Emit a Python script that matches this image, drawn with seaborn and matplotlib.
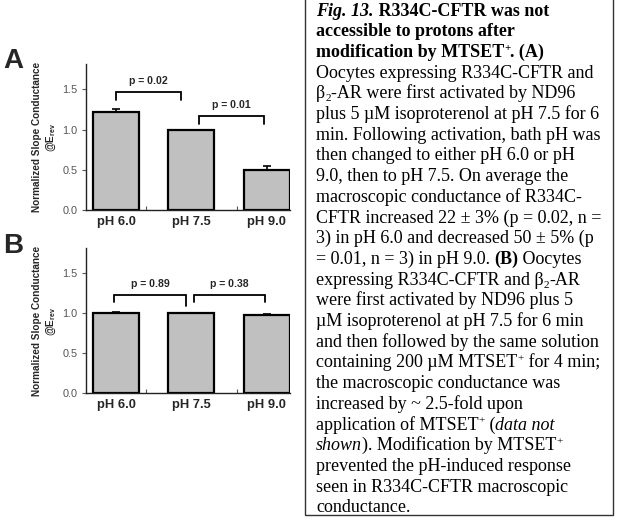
import numpy as np
import pandas as pd
import matplotlib
matplotlib.use("Agg")
import matplotlib.pyplot as plt
from matplotlib.patches import Rectangle
import seaborn as sns

# data
categories = ["pH 6.0", "pH 7.5", "pH 9.0"]
values_a = [1.22, 1.00, 0.50]
err_a = [0.03, 0.0, 0.05]
values_b = [1.00, 1.00, 0.98]
err_b = [0.015, 0.0, 0.015]
yticks = [0.0, 0.5, 1.0, 1.5]

# significance brackets: (label, x_left, x_right, y_top, y_leg_left, y_leg_right)
brackets_a = [("p = 0.02", 0.0, 0.86, 1.47, 1.37, 1.37),
              ("p = 0.01", 1.10, 1.96, 1.17, 1.07, 1.07)]
brackets_b = [("p = 0.89", -0.03, 0.93, 1.23, 1.14, 1.09),
              ("p = 0.38", 1.03, 1.98, 1.23, 1.14, 1.14)]

W, H = 622, 524
sns.set_style("ticks")
plt.rcParams["font.family"] = ["Liberation Sans", "DejaVu Sans"]

fig = plt.figure(figsize=(W / 100, H / 100), dpi=100)


def bar_panel(rect, vals, errs, brackets):
    ax = fig.add_axes(rect)
    df = pd.DataFrame({"ph": categories, "g": vals})
    sns.barplot(data=df, x="ph", y="g", color="#c0c0c0", width=0.61,
                edgecolor="black", linewidth=1.6, saturation=1, ax=ax)
    ax.errorbar(np.arange(len(vals)), vals, yerr=[np.zeros(len(vals)), errs],
                fmt="none", ecolor="black", elinewidth=1.2, capsize=3, capthick=1.2)
    for lab, x1, x2, yt, y1, y2 in brackets:
        ax.plot([x1, x1, x2, x2], [y1, yt, yt, y2], color="black", lw=1.3,
                solid_joinstyle="miter")
        ax.text((x1 + x2) / 2, yt + 0.07, lab, ha="center", va="bottom",
                fontsize=7.6, fontweight="bold")
    ax.set_xlim(-0.40, 2.31)
    ax.set_ylim(0, 1.815)
    ax.set_yticks(yticks)
    ax.set_yticklabels([f"{v:.1f}" for v in yticks])
    ax.set_xlabel("")
    ax.set_ylabel("")
    sns.despine(ax=ax)
    for s in ("left", "bottom"):
        ax.spines[s].set_linewidth(1.0)
        ax.spines[s].set_color("#222222")
    ax.tick_params(axis="y", length=3, width=0.8, pad=3, labelsize=7.8,
                   labelcolor="#555555", color="#555555")
    ax.tick_params(axis="x", length=0, pad=4, labelsize=9.3)
    for t in ax.get_xticklabels():
        t.set_fontweight("bold")
    ax.set_xticks([0.4, 1.6], minor=True)
    ax.tick_params(axis="x", which="minor", direction="in", length=3, width=0.8,
                   color="#555555")
    return ax


ax_a = bar_panel([86 / W, 1 - 210 / H, 204 / W, 146 / H], values_a, err_a, brackets_a)
ax_b = bar_panel([86 / W, 1 - 393 / H, 204 / W, 145 / H], values_b, err_b, brackets_b)

ylab = "Normalized Slope Conductance\n@E$_{\\mathregular{rev}}$"
for yc in (137, 321):
    fig.text(45 / W, 1 - yc / H, ylab, rotation=90, ha="center", va="center",
             multialignment="center", fontsize=7.2, fontweight="bold")

fig.text(3 / W, 1 - 61 / H, "A", fontsize=20, fontweight="bold", va="center")
fig.text(3 / W, 1 - 246 / H, "B", fontsize=20, fontweight="bold", va="center")

# caption box
fig.patches.append(Rectangle((305 / W, 1 - 515 / H), 308 / W, 517 / H,
                             transform=fig.transFigure, fill=False,
                             edgecolor="#333333", linewidth=1.0))

caption = [
    [("Fig. 13.", "bi"), (" R334C-CFTR was not", "b")],
    [("accessible to protons after", "b")],
    [("modification by MTSET", "b"), ("+", "bsup"), (". (A)", "b")],
    [("Oocytes expressing R334C-CFTR and", "n")],
    [("\u03b2", "n"), ("2", "sub"), ("-AR were first activated by ND96", "n")],
    [("plus 5 \u00b5M isoproterenol at pH 7.5 for 6", "n")],
    [("min. Following activation, bath pH was", "n")],
    [("then changed to either pH 6.0 or pH", "n")],
    [("9.0, then to pH 7.5. On average the", "n")],
    [("macroscopic conductance of R334C-", "n")],
    [("CFTR increased 22 \u00b1 3% (p = 0.02, n =", "n")],
    [("3) in pH 6.0 and decreased 50 \u00b1 5% (p", "n")],
    [("= 0.01, n = 3) in pH 9.0. ", "n"), ("(B)", "b"), (" Oocytes", "n")],
    [("expressing R334C-CFTR and \u03b2", "n"), ("2", "sub"), ("-AR", "n")],
    [("were first activated by ND96 plus 5", "n")],
    [("\u00b5M isoproterenol at pH 7.5 for 6 min", "n")],
    [("and then followed by the same solution", "n")],
    [("containing 200 \u00b5M MTSET", "n"), ("+", "sup"), (" for 4 min;", "n")],
    [("the macroscopic conductance was", "n")],
    [("increased by ~ 2.5-fold upon", "n")],
    [("application of MTSET", "n"), ("+", "sup"), (" (", "n"), ("data not", "i")],
    [("shown", "i"), ("). Modification by MTSET", "n"), ("+", "sup")],
    [("prevented the pH-induced response", "n")],
    [("seen in R334C-CFTR macroscopic", "n")],
    [("conductance.", "n")],
]

renderer = fig.canvas.get_renderer()
serif = ["Liberation Serif", "DejaVu Serif"]


def text_kw(style):
    kw = dict(family=serif, fontsize=13, color="black")
    if style in ("b", "bi", "bsup"):
        kw["fontweight"] = "bold"
    if style in ("i", "bi"):
        kw["fontstyle"] = "italic"
    if style in ("sup", "bsup", "sub"):
        kw["fontsize"] = 8
    return kw


def advance(txt, kw):
    p1 = fig.text(0, 0, txt + "x", **kw)
    p2 = fig.text(0, 0, "x", **kw)
    w = p1.get_window_extent(renderer).width - p2.get_window_extent(renderer).width
    p1.remove()
    p2.remove()
    return w


for i, runs in enumerate(caption):
    x = 316.0
    base = 15.5 + 20.7 * i
    for txt, style in runs:
        kw = text_kw(style)
        dy = 0
        if style in ("sup", "bsup"):
            dy = 6
        elif style == "sub":
            dy = -3
        fig.text(x / W, 1 - (base - dy) / H, txt, ha="left", va="baseline", **kw)
        x += advance(txt, kw)

fig.savefig("out.png", dpi=100)
